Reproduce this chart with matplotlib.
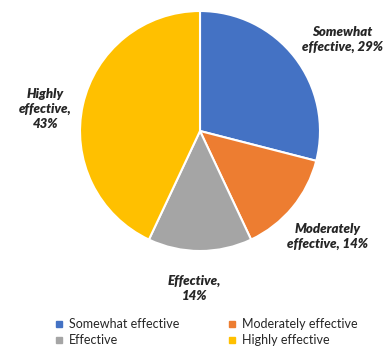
import numpy as np
import matplotlib.pyplot as plt
from matplotlib.lines import Line2D

plt.rcParams['font.family'] = ['Lato', 'DejaVu Sans']

categories = ['Somewhat effective', 'Moderately effective', 'Effective', 'Highly effective']
shares = [29, 14, 14, 43]
slice_labels = ['Somewhat\neffective, 29%', 'Moderately\neffective, 14%',
                'Effective,\n14%', 'Highly\neffective,\n43%']
colors = ['#4472C4', '#ED7D31', '#A5A5A5', '#FFC000']
# label placement: distance from centre (in radii) and turn from the slice middle (deg)
label_radius = [1.41, 1.38, 1.31, 1.30]
label_turn = [-5, 0, -2, 4.5]

W, H = 383, 346
fig = plt.figure(figsize=(W / 100, H / 100), dpi=100)
ax = fig.add_axes([0, 0, 1, 1])

cx, cy, r = 200, H - 131, 120
wedges, _ = ax.pie(shares, colors=colors, startangle=90, counterclock=False,
                   center=(cx, cy), radius=r,
                   wedgeprops=dict(edgecolor='white', linewidth=1.5))

for w, lab, k, t in zip(wedges, slice_labels, label_radius, label_turn):
    mid = np.deg2rad((w.theta1 + w.theta2) / 2 + t)
    ax.text(cx + k * r * np.cos(mid), cy + k * r * np.sin(mid), lab,
            ha='center', va='center', multialignment='center',
            fontsize=9.5, fontweight='heavy', fontstyle='italic',
            color='#262626', linespacing=1.3)

ax.set_xlim(0, W)
ax.set_ylim(0, H)
ax.set_aspect('equal')
ax.axis('off')

# legend fills column by column, so reorder to read row by row
order = [0, 2, 1, 3]
handles = [Line2D([], [], marker='s', linestyle='none', markersize=4,
                  markerfacecolor=colors[i], markeredgecolor=colors[i]) for i in order]
fig.legend(handles, [categories[i] for i in order], ncol=2, loc='upper left',
           bbox_to_anchor=(50 / W, (H - 313) / H), frameon=False,
           fontsize=9, handlelength=0.7, handletextpad=0.4,
           columnspacing=3.9, labelspacing=0.35, borderaxespad=0,
           labelcolor='#262626')

fig.savefig('out.png', dpi=100)
